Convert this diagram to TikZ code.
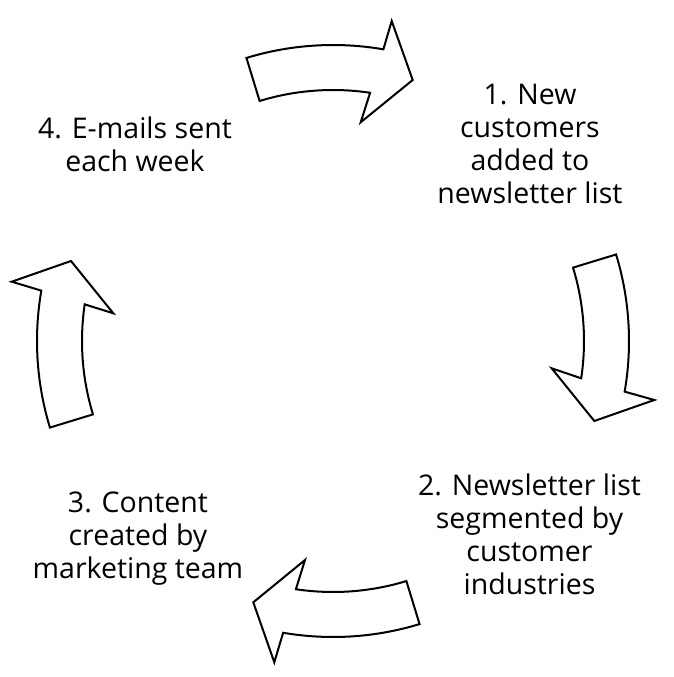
\documentclass[tikz,border=0pt]{standalone}
\usepackage{fontspec}
\setmainfont{Open Sans}
\usetikzlibrary{calc}
\begin{document}
\begin{tikzpicture}[x=1pt,y=-1pt,
  lbl/.style={align=center,anchor=base,inner sep=0pt,font=\fontsize{28.5}{33}\selectfont},
  blockarrow/.style={draw=black,line width=2pt,fill=white}]
\fill[white] (0,0) rectangle (673,677);
\useasboundingbox (0,0) rectangle (673,677);
\coordinate (c) at (333,341);
% arrow 1 (top, pointing right)
\draw[blockarrow] ($(c)+(-107:296)$) arc[start angle=-107,end angle=-80.2,radius=296]
  -- (391.7,21) -- (412.7,80) -- (360.7,122.3)
  -- ($(c)+(-81.5:251)$) arc[start angle=-81.5,end angle=-107,radius=251] -- cycle;
% arrow 2 (right, pointing down)
\draw[blockarrow] ($(c)+(-17:296)$) arc[start angle=-17,end angle=9.85,radius=296]
  -- (654.3,400) -- (594.3,421) -- (551.7,368.3)
  -- ($(c)+(8.55:251)$) arc[start angle=8.55,end angle=-17,radius=251] -- cycle;
% arrow 3 (bottom, pointing left)
\draw[blockarrow] ($(c)+(73:296)$) arc[start angle=73,end angle=99.7,radius=296]
  -- (274.3,662.3) -- (253.3,602.3) -- (305,560)
  -- ($(c)+(98.5:251)$) arc[start angle=98.5,end angle=73,radius=251] -- cycle;
% arrow 4 (left, pointing up)
\draw[blockarrow] ($(c)+(163:296)$) arc[start angle=163,end angle=189.8,radius=296]
  -- (11.7,281.7) -- (71,261) -- (113.3,313.3)
  -- ($(c)+(188.4:251)$) arc[start angle=188.4,end angle=163,radius=251] -- cycle;
% labels (anchor = baseline of last line)
\node[lbl] (s1) at (530,203) {1. New\\customers\\added to\\newsletter list};
\node[lbl] (s2) at (529.5,594) {2. Newsletter list\\segmented by\\customer\\industries};
\node[lbl] (s3) at (138,578) {3. Content\\created by\\marketing team};
\node[lbl] (s4) at (135,171) {4. E-mails sent\\each week};
\end{tikzpicture}
\end{document}
